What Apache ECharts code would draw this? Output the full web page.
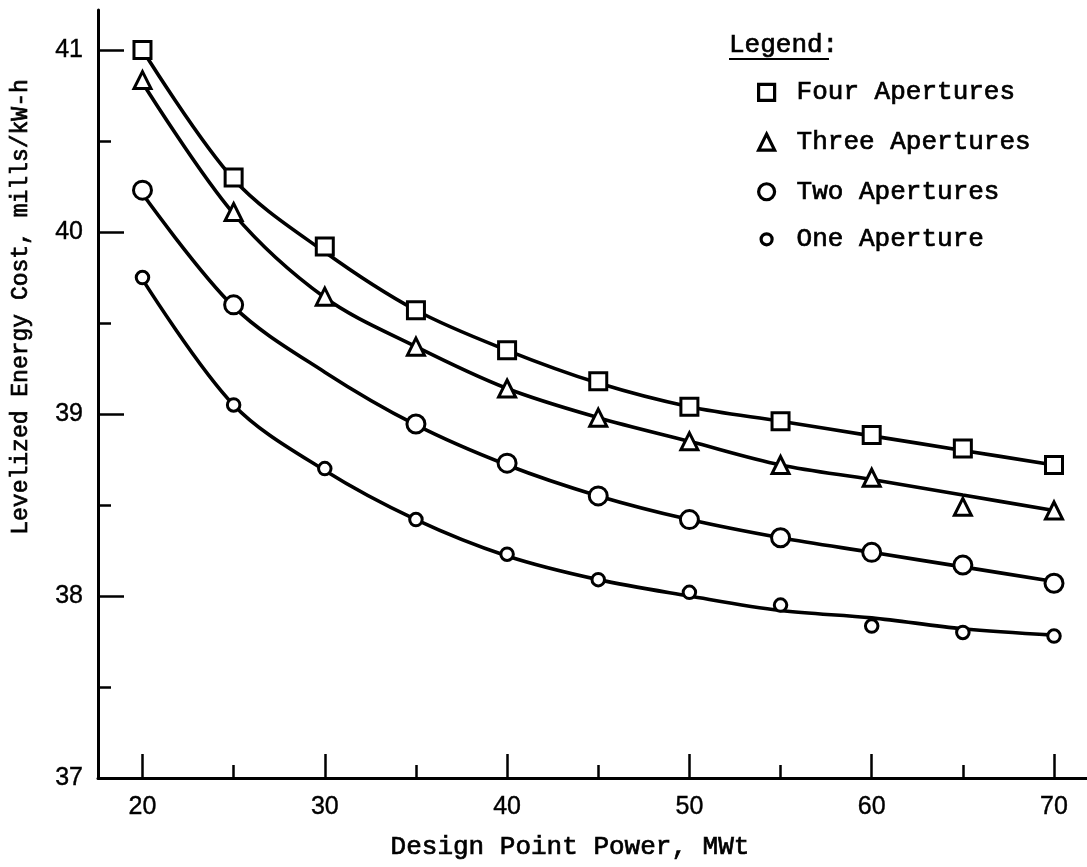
<!DOCTYPE html>
<html>
<head>
<meta charset="utf-8">
<script src="https://cdn.jsdelivr.net/npm/echarts@6/dist/echarts.min.js"></script>
<style>
html,body{margin:0;padding:0;background:#fff;}
#chart{width:1087px;height:867px;}
</style>
</head>
<body>
<div id="chart"></div>
<script>
// ---- data ----
const powerMWt = [20, 25, 30, 35, 40, 45, 50, 55, 60, 65, 70];

// plotted data points
const fourPts  = [41.00, 40.30, 39.92, 39.57, 39.35, 39.18, 39.04, 38.96, 38.885, 38.81, 38.72];
const threePts = [40.835, 40.11, 39.645, 39.37, 39.14, 38.98, 38.85, 38.72, 38.65, 38.49, 38.47];
const twoPts   = [40.23, 39.60, null, 38.945, 38.73, 38.55, 38.42, 38.32, 38.24, 38.17, 38.07];
const onePts   = [39.75, 39.05, 38.70, 38.42, 38.23, 38.09, 38.02, 37.95, 37.835, 37.80, 37.78];

// fitted curves (where the drawn line passes)
const fourFit  = [41.00, 40.29, 39.89, 39.57, 39.35, 39.17, 39.04, 38.96, 38.88, 38.80, 38.72];
const threeFit = [40.82, 40.10, 39.64, 39.37, 39.14, 38.98, 38.85, 38.72, 38.64, 38.555, 38.47];
const twoFit   = [40.21, 39.59, 39.23, 38.94, 38.72, 38.55, 38.42, 38.32, 38.24, 38.16, 38.08];
const oneFit   = [39.74, 39.05, 38.69, 38.42, 38.22, 38.09, 38.00, 37.92, 37.88, 37.82, 37.785];

const seriesNames = ['Four Apertures', 'Three Apertures', 'Two Apertures', 'One Aperture'];

const xMajorTicks = [20, 30, 40, 50, 60, 70];
const xMinorTicks = [25, 35, 45, 55, 65];
const yMajorTicks = [37, 38, 39, 40, 41];
const yMinorTicks = [37.5, 38.5, 39.5, 40.5];

const xTitle = 'Design Point Power, MWt';
const yTitle = 'Levelized Energy Cost, mills/kW-h';
const legendTitle = 'Legend:';

// ---- chart ----
const pair = (arr) => powerMWt.map((x, i) => [x, arr[i]]).filter(p => p[1] !== null);

const INK = '#000';
const MONO = '"Liberation Mono", "DejaVu Sans Mono", monospace';
const SANS = '"Liberation Sans", Arial, sans-serif';

const markers = [
  { symbol: 'rect', size: 17 },
  { symbol: 'triangle', size: 17 },
  { symbol: 'circle', size: 18 },
  { symbol: 'circle', size: 12.5 }
];
const fits = [fourFit, threeFit, twoFit, oneFit];
const pts = [fourPts, threePts, twoPts, onePts];

const series = [];
fits.forEach((f, i) => {
  series.push({
    type: 'line', name: seriesNames[i] + ' curve', data: pair(f),
    smooth: 0.33, showSymbol: false, silent: true, z: 2,
    lineStyle: { color: INK, width: 3.6 }
  });
});
pts.forEach((p, i) => {
  series.push({
    type: 'scatter', name: seriesNames[i], data: pair(p),
    symbol: markers[i].symbol, symbolSize: markers[i].size, z: 5,
    itemStyle: { color: '#fff', borderColor: INK, borderWidth: 3, opacity: 1 }
  });
});

const xMin = 17.56, xMax = 71.81, yMin = 37, yMax = 41.22;

const labelStyle = { color: INK, fontFamily: SANS, fontSize: 25, textBorderColor: INK, textBorderWidth: 0.4 };
const monoStroke = { stroke: INK, lineWidth: 0.7 };

const option = {
  backgroundColor: '#fff',
  animation: false,
  grid: { left: 98, right: 0, top: 10, bottom: 89, containLabel: false },
  xAxis: [
    {
      type: 'value', min: xMin, max: xMax,
      axisLine: { show: true, onZero: false, lineStyle: { color: INK, width: 3 } },
      axisTick: { show: true, inside: true, length: 24, customValues: xMajorTicks, lineStyle: { color: INK, width: 2.5 } },
      axisLabel: Object.assign({ show: true, customValues: xMajorTicks, margin: 17 }, labelStyle),
      splitLine: { show: false }
    },
    {
      type: 'value', min: xMin, max: xMax, position: 'bottom',
      axisLine: { show: false },
      axisTick: { show: true, inside: true, length: 13, customValues: xMinorTicks, lineStyle: { color: INK, width: 2.5 } },
      axisLabel: { show: false },
      splitLine: { show: false }
    }
  ],
  yAxis: [
    {
      type: 'value', min: yMin, max: yMax,
      axisLine: { show: true, onZero: false, lineStyle: { color: INK, width: 3 } },
      axisTick: { show: true, inside: true, length: 26, customValues: yMajorTicks, lineStyle: { color: INK, width: 2.5 } },
      axisLabel: Object.assign({ show: true, customValues: yMajorTicks, margin: 15 }, labelStyle),
      splitLine: { show: false }
    },
    {
      type: 'value', min: yMin, max: yMax, position: 'left',
      axisLine: { show: false },
      axisTick: { show: true, inside: true, length: 13, customValues: yMinorTicks, lineStyle: { color: INK, width: 2.5 } },
      axisLabel: { show: false },
      splitLine: { show: false }
    }
  ],
  legend: [
    {
      orient: 'vertical', left: 757, top: 79, padding: 0,
      data: seriesNames.slice(0, 3),
      itemWidth: 16, itemHeight: 16, itemGap: 23,
      itemStyle: { color: '#fff', borderColor: INK, borderWidth: 3.2 },
      textStyle: { color: INK, fontFamily: MONO, fontSize: 26, lineHeight: 26, padding: [0, 0, 0, 17], textBorderColor: INK, textBorderWidth: 0.7 },
      selectedMode: false
    },
    {
      orient: 'vertical', left: 759.5, top: 226, padding: 0,
      data: seriesNames.slice(3),
      itemWidth: 11, itemHeight: 11, itemGap: 23,
      itemStyle: { color: '#fff', borderColor: INK, borderWidth: 3.2 },
      textStyle: { color: INK, fontFamily: MONO, fontSize: 26, lineHeight: 26, padding: [0, 0, 0, 19.5], textBorderColor: INK, textBorderWidth: 0.7 },
      selectedMode: false
    }
  ],
  graphic: [
    {
      type: 'text', x: 570, y: 847,
      style: Object.assign({ text: xTitle, fill: INK, font: '26px ' + MONO, align: 'center', verticalAlign: 'middle' }, monoStroke)
    },
    {
      type: 'text', x: 21, y: 307, rotation: Math.PI / 2,
      style: Object.assign({ text: yTitle, fill: INK, font: '23px ' + MONO, align: 'center', verticalAlign: 'middle' }, monoStroke)
    },
    {
      type: 'text', x: 729, y: 45,
      style: Object.assign({ text: legendTitle, fill: INK, font: '26px ' + MONO, align: 'left', verticalAlign: 'middle' }, monoStroke)
    },
    {
      type: 'line', shape: { x1: 729, y1: 59, x2: 829, y2: 59 },
      style: { stroke: INK, lineWidth: 2 }
    }
  ],
  series: series
};

const chart = echarts.init(document.getElementById('chart'), null, { renderer: 'canvas' });
chart.setOption(option);
</script>
</body>
</html>
